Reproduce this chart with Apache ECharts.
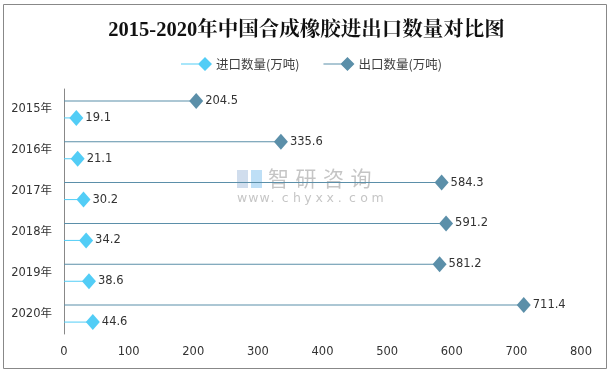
<!DOCTYPE html>
<html><head><meta charset="utf-8">
<script src="https://cdn.jsdelivr.net/npm/echarts@6/dist/echarts.min.js"></script>
<style>html,body{margin:0;padding:0;background:#fff}#c{width:613px;height:373px}</style>
</head><body><div id="c"></div>
<script>
const years = ['2015年','2016年','2017年','2018年','2019年','2020年'];
const importVals = [19.1, 21.1, 30.2, 34.2, 38.6, 44.6];
const exportVals = [204.5, 335.6, 584.3, 591.2, 581.2, 711.4];
const xTicks = [0, 100, 200, 300, 400, 500, 600, 700, 800];
const importName = '进口数量(万吨)';
const exportName = '出口数量(万吨)';
const cImp = '#52CDF6';
const cExp = '#5B8FA9';
const iconPath = 'path://M0,9.4 L24,9.4 L24,10.6 L0,10.6 Z M24,3 L31,10 L24,17 L17,10 Z';
const chart = echarts.init(document.getElementById('c'));
const lbl = {show:true, position:'right', distance:2, color:'#333', fontSize:11.5, fontFamily:'DejaVu Sans'};
const wmColor = 'rgba(150,150,150,0.55)';
const wmGraphics = [];
'智研咨询'.split('').forEach((ch,i)=>{
  wmGraphics.push({type:'text', x:268+i*27.5, y:168, style:{text:ch, fill:wmColor, font:'21px "Noto Sans CJK SC"'}});
});
'www.chyxx.com'.split('').forEach((ch,i)=>{
  wmGraphics.push({type:'text', x:237+i*11.2, y:192, style:{text:ch, fill:wmColor, font:'12.5px "DejaVu Sans"'}});
});
chart.setOption({
  animation:false,
  graphic:[
    {type:'rect', shape:{x:3.5,y:4.5,width:603,height:364}, style:{fill:'none', stroke:'#888', lineWidth:1}, z:-1},
    {type:'rect', shape:{x:237,y:170,width:11,height:18}, style:{fill:'rgba(150,180,215,0.45)'}},
    {type:'rect', shape:{x:251,y:170,width:11,height:18}, style:{fill:'rgba(110,185,235,0.45)'}}
  ].concat(wmGraphics),
  title:{text:'2015-2020年中国合成橡胶进出口数量对比图', left:'center', top:15,
    textStyle:{fontFamily:'"Liberation Serif","Noto Serif CJK SC","Noto Sans CJK SC"', fontSize:20.5, fontWeight:'bold', color:'#111'}},
  legend:{top:52, left:176, itemWidth:31, itemHeight:20, itemGap:24,
    textStyle:{fontSize:12.5, color:'#404040', fontFamily:'"Noto Sans CJK SC"', padding:[0,0,0,-1]},
    data:[{name:importName, icon:iconPath, itemStyle:{color:cImp}}, {name:exportName, icon:iconPath, itemStyle:{color:cExp}}]},
  grid:{left:64, right:32, top:89, bottom:39, containLabel:false},
  xAxis:{type:'value', min:0, max:800, interval:100,
    axisLine:{show:false}, axisTick:{show:false}, splitLine:{show:false},
    axisLabel:{color:'#333', fontSize:11.5, fontFamily:'DejaVu Sans', margin:12,
      formatter:v=> xTicks.includes(v) ? String(v) : ''}},
  yAxis:{type:'category', data:years, inverse:true,
    axisLine:{show:true, lineStyle:{color:'#888'}}, axisTick:{show:false},
    axisLabel:{color:'#333', fontSize:11.5, fontFamily:'"DejaVu Sans","Noto Sans CJK SC"', margin:12}},
  series:[
    {name:exportName, type:'bar', data:exportVals, barWidth:1, barGap:'1600%', itemStyle:{color:cExp}, silent:true},
    {name:importName, type:'bar', data:importVals, barWidth:1, barGap:'1600%', itemStyle:{color:cImp}, silent:true},
    {name:exportName, type:'scatter', data:exportVals.map((v,i)=>[v,i]), symbol:'diamond', symbolSize:[14,16], symbolOffset:[0,-8.5], itemStyle:{color:cExp, opacity:1}, label:lbl},
    {name:importName, type:'scatter', data:importVals.map((v,i)=>[v,i]), symbol:'diamond', symbolSize:[14,16], symbolOffset:[0,8.5], itemStyle:{color:cImp, opacity:1}, label:lbl}
  ]
});
</script></body></html>
